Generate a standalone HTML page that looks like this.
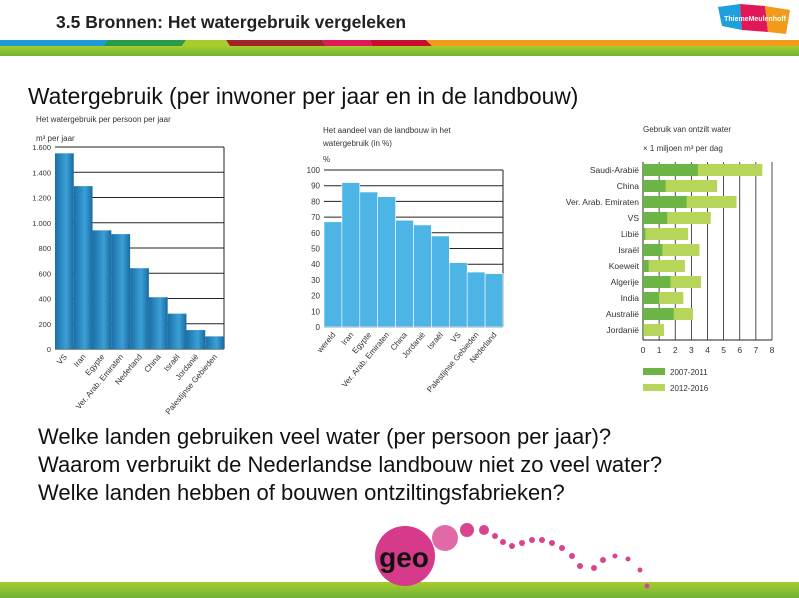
<!DOCTYPE html>
<html><head><meta charset="utf-8">
<style>
body{margin:0;width:799px;height:598px;overflow:hidden;background:#fff;font-family:"Liberation Sans",sans-serif;position:relative}
.abs{position:absolute}
.q{position:absolute;left:38px;font-size:22px;color:#111;white-space:nowrap}
</style></head><body>
<div class="abs" style="left:56px;top:12px;font-size:17.5px;font-weight:bold;color:#222">3.5 Bronnen: Het watergebruik vergeleken</div>
<svg class="abs" style="left:0;top:0" width="799" height="60">
<defs><linearGradient id="gb" x1="0" x2="0" y1="0" y2="1"><stop offset="0" stop-color="#a8cc2c"/><stop offset="1" stop-color="#6eb43a"/></linearGradient></defs>
<rect x="0" y="40" width="110" height="6" fill="#1e9ad6"/>
<polygon points="108,40 186,40 182,46 104,46" fill="#2a9a48"/>
<polygon points="186,40 226,40 230,46 182,46" fill="#a8cc2c"/>
<polygon points="226,40 322,40 326,46 230,46" fill="#a0242a"/>
<polygon points="322,40 370,40 372,46 326,46" fill="#e0185a"/>
<polygon points="370,40 426,40 432,46 372,46" fill="#c8102e"/>
<polygon points="426,40 799,40 799,46 432,46" fill="#f29a1a"/>
<rect x="0" y="46" width="799" height="10" fill="url(#gb)"/>
<g>
<polygon points="718,7 740,4 742,30 722,26" fill="#1ea0dc"/>
<polygon points="740,4 765,6 768,32 742,30" fill="#e0185a"/>
<polygon points="765,6 790,10 786,34 768,32" fill="#f29a1a"/>
<text x="755" y="21" font-size="7" fill="#fff" text-anchor="middle" font-weight="bold">ThiemeMeulenhoff</text>
</g>
</svg>
<div class="abs" style="left:28px;top:83px;font-size:22.8px;color:#111">Watergebruik (per inwoner per jaar en in de landbouw)</div>

<svg class="abs" style="left:0;top:0" width="799" height="420" font-family="Liberation Sans, sans-serif">
<defs><linearGradient id="b1" x1="0" x2="1"><stop offset="0" stop-color="#1b6fa8"/><stop offset=".6" stop-color="#3aa0d6"/><stop offset="1" stop-color="#1a6aa0"/></linearGradient></defs>
<g id="c1"></g><g id="c2"></g><g id="c3"></g>
</svg>

<div class="q" style="top:424px">Welke landen gebruiken veel water (per persoon per jaar)?</div>
<div class="q" style="top:452px">Waarom verbruikt de Nederlandse landbouw niet zo veel water?</div>
<div class="q" style="top:480px">Welke landen hebben of bouwen ontziltingsfabrieken?</div>

<svg class="abs" style="left:0;top:510px" width="799" height="88">
<defs><linearGradient id="fg" x1="0" x2="0" y1="0" y2="1"><stop offset="0" stop-color="#a8cc2c"/><stop offset="1" stop-color="#6eb43a"/></linearGradient></defs>
<rect x="0" y="72" width="799" height="16" fill="url(#fg)"/>
<circle cx="405" cy="46" r="30" fill="#d63a8a"/>
<circle cx="445" cy="28" r="13" fill="#e06aa8"/>
<circle cx="467" cy="20" r="7" fill="#d8458f"/>
<circle cx="484" cy="20" r="5" fill="#d8458f"/>
<g fill="#d8458f"><circle cx="495" cy="26" r="3"/><circle cx="503" cy="32" r="3"/><circle cx="512" cy="36" r="3"/><circle cx="522" cy="33" r="3"/><circle cx="532" cy="30" r="3"/><circle cx="542" cy="30" r="3"/><circle cx="552" cy="33" r="3"/><circle cx="562" cy="38" r="3"/><circle cx="572" cy="46" r="3"/><circle cx="580" cy="56" r="3"/><circle cx="594" cy="58" r="3"/><circle cx="603" cy="50" r="3"/><circle cx="615" cy="46" r="2.5"/><circle cx="628" cy="49" r="2.5"/><circle cx="640" cy="60" r="2.5"/><circle cx="647" cy="76" r="2.5"/></g>
<text x="404" y="57" font-size="28" font-weight="bold" fill="#111" text-anchor="middle">geo</text>
</svg>

<script>
const NS='http://www.w3.org/2000/svg';
function mk(p,t,a,txt){const e=document.createElementNS(NS,t);for(const k in a)e.setAttribute(k,a[k]);if(txt!==undefined)e.textContent=txt;p.appendChild(e);return e;}
// Chart 1
const c1Cats=['VS','Iran','Egypte','Ver. Arab. Emiraten','Nederland','China','Israël','Jordanië','Palestijnse Gebieden'];
const c1Vals=[1550,1290,940,910,640,410,280,150,100];
const c1Ticks=[0,200,400,600,800,1000,1200,1400,1600];
const c1Labels=['0','200','400','600','800','1.000','1.200','1.400','1.600'];
// Chart 2
const c2Cats=['wereld','Iran','Egypte','Ver. Arab. Emiraten','China','Jordanië','Israël','VS','Palestijnse Gebieden','Nederland'];
const c2Vals=[67,92,86,83,68,65,58,41,35,34];
const c2Ticks=[0,10,20,30,40,50,60,70,80,90,100];
// Chart 3
const c3Cats=['Saudi-Arabië','China','Ver. Arab. Emiraten','VS','Libië','Israël','Koeweit','Algerije','India','Australië','Jordanië'];
const c3Early=[3.4,1.4,2.7,1.5,0.15,1.2,0.35,1.7,1.0,1.9,0.05];
const c3Total=[7.4,4.6,5.8,4.2,2.8,3.5,2.6,3.6,2.5,3.1,1.3];
const c3Ticks=[0,1,2,3,4,5,6,7,8];

(function(){
 const g=document.getElementById('c1');
 const x0=55,x1=224,y0=349,y1=147,max=1600;
 const y=v=>y0-(v/max)*(y0-y1);const bw=(x1-x0)/c1Cats.length;
 mk(g,'text',{x:36,y:122,'font-size':8,fill:'#333'},'Het watergebruik per persoon per jaar');
 mk(g,'text',{x:36,y:141,'font-size':8,fill:'#333'},'m³ per jaar');
 c1Ticks.forEach((t,i)=>{const yy=y(t);mk(g,'line',{x1:x0,x2:x1,y1:yy,y2:yy,stroke:'#222','stroke-width':1});
  mk(g,'text',{x:51,y:yy+3,'font-size':7.5,fill:'#333','text-anchor':'end'},c1Labels[i]);});
 mk(g,'line',{x1:x1,x2:x1,y1:y1,y2:y0,stroke:'#222'});
 c1Vals.forEach((v,i)=>{const r=mk(g,'rect',{x:x0+i*bw,y:y(v),width:bw,height:y0-y(v),fill:'url(#b1)'});
  
  
  const cx=x0+i*bw+bw/2+3;
  mk(g,'text',{x:cx,y:y0+8,'font-size':8,fill:'#333','text-anchor':'end',transform:`rotate(-50 ${cx} ${y0+8})`},c1Cats[i]);});
})();
(function(){
 const g=document.getElementById('c2');
 const x0=324,x1=503,y0=327,y1=170,max=100;
 const y=v=>y0-(v/max)*(y0-y1);const bw=(x1-x0)/c2Cats.length;
 mk(g,'text',{x:323,y:133,'font-size':8,fill:'#333'},'Het aandeel van de landbouw in het');
 mk(g,'text',{x:323,y:146,'font-size':8,fill:'#333'},'watergebruik (in %)');
 mk(g,'text',{x:323,y:162,'font-size':8,fill:'#333'},'%');
 c2Ticks.forEach(t=>{const yy=y(t);mk(g,'line',{x1:x0,x2:x1,y1:yy,y2:yy,stroke:'#222'});
  mk(g,'text',{x:320,y:yy+3,'font-size':8,fill:'#333','text-anchor':'end'},String(t));});
 mk(g,'line',{x1:x1,x2:x1,y1:y1,y2:y0,stroke:'#222'});
 c2Vals.forEach((v,i)=>{const r=mk(g,'rect',{x:x0+i*bw,y:y(v),width:bw,height:y0-y(v),fill:'#4db4e6',stroke:'#fff','stroke-width':0.6});
  
  
  const cx=x0+i*bw+bw/2+3;
  mk(g,'text',{x:cx,y:y0+8,'font-size':8,fill:'#333','text-anchor':'end',transform:`rotate(-50 ${cx} ${y0+8})`},c2Cats[i]);});
})();
(function(){
 const g=document.getElementById('c3');
 const x0=643,x1=772,top=162,bot=340,rowTop=170,rs=16,max=8;
 const x=v=>x0+(v/max)*(x1-x0);
 mk(g,'text',{x:643,y:132,'font-size':8,fill:'#333'},'Gebruik van ontzilt water');
 mk(g,'text',{x:643,y:151,'font-size':8,fill:'#333'},'× 1 miljoen m³ per dag');
 c3Ticks.forEach(t=>{mk(g,'line',{x1:x(t),x2:x(t),y1:top,y2:bot,stroke:'#222','stroke-width':t===0?1:0.8});
  mk(g,'text',{x:x(t),y:353,'font-size':8.5,fill:'#333','text-anchor':'middle'},String(t));});
 mk(g,'line',{x1:x0,x2:x1,y1:bot,y2:bot,stroke:'#222'});
 c3Cats.forEach((c,i)=>{const cy=rowTop+i*rs;
  const a=mk(g,'rect',{x:x0,y:cy-6,width:x(c3Total[i])-x0,height:12,fill:'#b6d55a'});
  
  const b=mk(g,'rect',{x:x0,y:cy-6,width:x(c3Early[i])-x0,height:12,fill:'#6cb545'});
  
  mk(g,'text',{x:639,y:cy+3,'font-size':8.5,fill:'#333','text-anchor':'end'},c);});
 mk(g,'rect',{x:643,y:368,width:22,height:7,fill:'#6cb545'});
 mk(g,'text',{x:670,y:375,'font-size':8,fill:'#333'},'2007-2011');
 mk(g,'rect',{x:643,y:384,width:22,height:7,fill:'#b6d55a'});
 mk(g,'text',{x:670,y:391,'font-size':8,fill:'#333'},'2012-2016');
})();
</script>
</body></html>
